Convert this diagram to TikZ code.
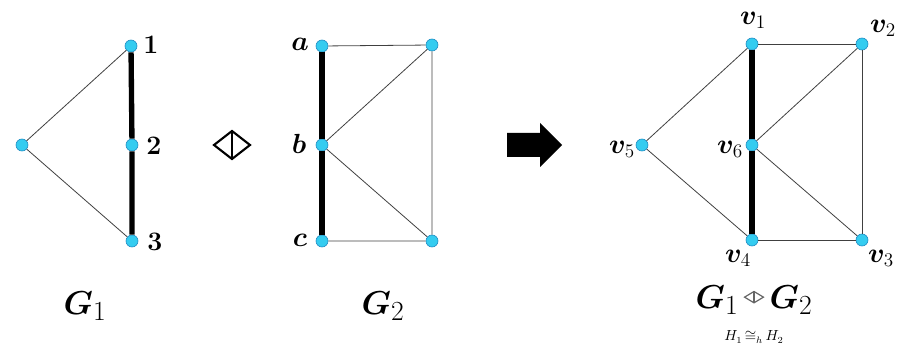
\documentclass[tikz,border=0pt]{standalone}
\usepackage{bm}
\usetikzlibrary{positioning}

\definecolor{vtxfill}{RGB}{52,204,240}
\definecolor{vtxline}{RGB}{30,140,195}

\newcommand{\opdiamond}{%
  \tikz[x=1cm, y=1cm, baseline=-0.6ex, line width=0.9pt, gray!80!black]{%
    \draw (-0.25,0) -- (0,0.15) -- (0.25,0) -- (0,-0.15) -- cycle;
    \draw (0,0.15) -- (0,-0.15);}}

\begin{document}
\begin{tikzpicture}[x=0.75pt, y=-0.75pt,
    vtx/.style={circle, fill=vtxfill, draw=vtxline, line width=0.5pt, inner sep=0pt, minimum size=9pt},
    thin edge/.style={line width=0.6pt, black!75},
    bold edge/.style={line width=4pt, black},
    numlbl/.style={font=\fontsize{20}{22}\selectfont\bfseries, inner sep=0pt},
    vlbl/.style={font=\fontsize{21}{22}\selectfont, inner sep=0pt},
    glbl/.style={font=\fontsize{32}{34}\selectfont, inner sep=0pt}]

  \useasboundingbox (0,0) rectangle (897,345);

  % G_1
  \node[vtx] (p0) at (22,145) {};
  \node[vtx] (p1) at (131,46) {};
  \node[vtx] (p2) at (132,145) {};
  \node[vtx] (p3) at (132,241) {};
  \draw[thin edge] (p0) -- (p1);
  \draw[thin edge] (p0) -- (p3);
  \draw[bold edge] (p1) -- (p2) -- (p3);
  \node[numlbl] (l1) at (151,45) {1};
  \node[numlbl] (l2) at (154,146) {2};
  \node[numlbl] (l3) at (155,242) {3};

  % diamond product sign
  \draw[line width=1.6pt, line join=miter] (214,145) -- (232,131) -- (250,145) -- (232,159) -- cycle;
  \draw[line width=1.6pt] (232,131) -- (232,159);

  % G_2
  \node[vtx] (qa) at (322,46) {};
  \node[vtx] (qb) at (322,145) {};
  \node[vtx] (qc) at (322,241) {};
  \node[vtx] (qr) at (432,45) {};
  \node[vtx] (qs) at (432,241) {};
  \draw[thin edge] (qa) -- (qr) -- (qs) -- (qc);
  \draw[thin edge] (qb) -- (qr);
  \draw[thin edge] (qb) -- (qs);
  \draw[bold edge] (qa) -- (qb) -- (qc);
  \node[vlbl] (la) at (300,44) {$\bm{a}$};
  \node[vlbl] (lb) at (299,144) {$\bm{b}$};
  \node[vlbl] (lc) at (300,240) {$\bm{c}$};

  % block arrow
  \fill (507,133) -- (540,133) -- (540,123) -- (562,145) -- (540,167)
        -- (540,157) -- (507,157) -- cycle;

  % result graph
  \node[vtx] (v1) at (752,44) {};
  \node[vtx] (v2) at (862,44) {};
  \node[vtx] (v3) at (862,240) {};
  \node[vtx] (v4) at (752,240) {};
  \node[vtx] (v5) at (642,145) {};
  \node[vtx] (v6) at (752,145) {};
  \draw[thin edge] (v1) -- (v2) -- (v3) -- (v4);
  \draw[thin edge] (v5) -- (v1);
  \draw[thin edge] (v5) -- (v4);
  \draw[thin edge] (v6) -- (v2);
  \draw[thin edge] (v6) -- (v3);
  \draw[bold edge] (v1) -- (v6) -- (v4);
  \node[vlbl] (lv1) at (753,20) {$\bm{v}_1$};
  \node[vlbl] (lv2) at (883,28) {$\bm{v}_2$};
  \node[vlbl] (lv3) at (881,258) {$\bm{v}_3$};
  \node[vlbl] (lv4) at (738,258) {$\bm{v}_4$};
  \node[vlbl] (lv5) at (622,149) {$\bm{v}_5$};
  \node[vlbl] (lv6) at (730,149) {$\bm{v}_6$};

  % captions
  \node[glbl] (cap1) at (85,306) {$\bm{G}_1$};
  \node[glbl] (cap2) at (383,306) {$\bm{G}_2$};
  \node[glbl] (cap3) at (754,300) {$\bm{G}_1\,\opdiamond\,\bm{G}_2$};
  \node[font=\fontsize{10.5}{11}\selectfont, inner sep=0pt] (cap4) at (754,337) {$H_1\,{\cong}_{h}\,H_2$};

\end{tikzpicture}
\end{document}
